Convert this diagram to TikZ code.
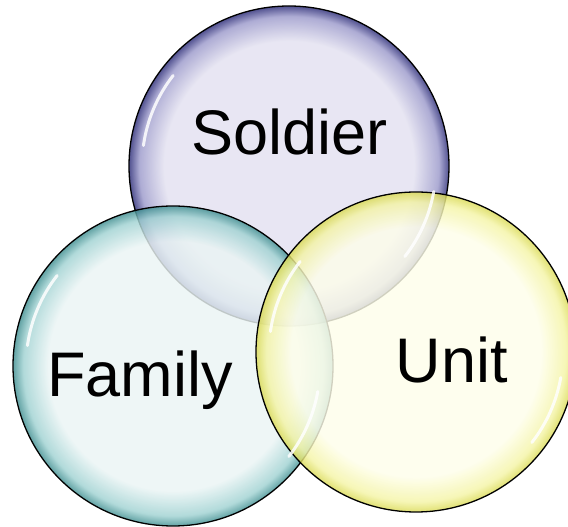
\documentclass[tikz,border=0pt]{standalone}
\usepackage{fontspec}
\setmainfont{Liberation Sans}
\usetikzlibrary{positioning}

\definecolor{soldierin}{HTML}{E3E1F0}
\definecolor{soldiermid}{HTML}{9C9ACB}
\definecolor{soldierout}{HTML}{2C2C78}
\definecolor{familyin}{HTML}{EAF4F4}
\definecolor{familymid}{HTML}{A0D2D2}
\definecolor{familyout}{HTML}{3F8E90}
\definecolor{unitin}{HTML}{FEFEEA}
\definecolor{unitmid}{HTML}{F4F4A6}
\definecolor{unitout}{HTML}{DADA55}

\pgfdeclareradialshading{soldierbub}{\pgfpointorigin}{color(0bp)=(soldierin); color(19.5bp)=(soldierin); color(23.4bp)=(soldiermid); color(25bp)=(soldierout); color(50bp)=(soldierout)}
\pgfdeclareradialshading{familybub}{\pgfpointorigin}{color(0bp)=(familyin); color(19.5bp)=(familyin); color(23.4bp)=(familymid); color(25bp)=(familyout); color(50bp)=(familyout)}
\pgfdeclareradialshading{unitbub}{\pgfpointorigin}{color(0bp)=(unitin); color(19.5bp)=(unitin); color(23.4bp)=(unitmid); color(25bp)=(unitout); color(50bp)=(unitout)}

\tikzset{
	bubble/.style={circle, draw=black, line width=1.3pt, minimum size=320pt, inner sep=0pt, shade, fill opacity=0.82},
	glint/.style={white, line width=3pt, line cap=round, opacity=0.85},
	lbl/.style={font=\fontsize{63}{63}\selectfont, text=black, anchor=base}
}

\begin{document}
\begin{tikzpicture}[x=1pt, y=1pt]
	\useasboundingbox (0,0) rectangle (568,527);
	\node[bubble, shading=soldierbub] (soldier) at (289,361) {};
	\node[bubble, shading=familybub] (family) at (173,161) {};
	\node[bubble, shading=unitbub] (unit) at (416,175) {};
	%reflets
	\foreach \b in {soldier,family,unit}{
		\draw[glint] (\b.center) ++(142:147) arc (142:172:147);
		\draw[glint] (\b.center) ++(-38:147) arc (-38:-10:147);
	}
	%textes
	\node[lbl] (soldiertxt) at (289.5,372) {Soldier};
	\node[lbl] (familytxt) at (140,130) {Family};
	\node[lbl] (unittxt) at (452,144) {Unit};
\end{tikzpicture}
\end{document}
